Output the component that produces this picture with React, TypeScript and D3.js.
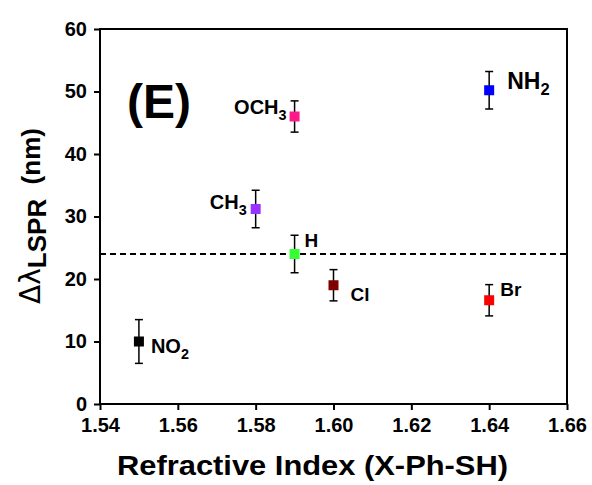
import React, { useEffect, useRef } from 'react'
import * as d3 from 'd3'

const names = ['NO2', 'CH3', 'OCH3', 'H', 'Cl', 'Br', 'NH2']
const refIndex = [1.55, 1.58, 1.59, 1.59, 1.60, 1.64, 1.64]
const shift = [10, 31.2, 46, 24, 19, 16.6, 50.2]
const errors = [3.5, 3, 2.5, 3, 2.5, 2.5, 3]
const colors = ['#000000', '#9933ff', '#ff1a8c', '#33ff33', '#800000', '#ff0000', '#0000ff']
// label placement relative to marker: [dx, dy, anchor, font size]
const labelPos: [number, number, string, number][] = [
  [12, 11, 'start', 20],
  [-9, 0, 'end', 20],
  [-8, -2.5, 'end', 20],
  [10, -7, 'start', 19],
  [17, 16, 'start', 19],
  [11, -4.5, 'start', 19],
  [18, -1.5, 'start', 23]
]
const xTicks = [1.54, 1.56, 1.58, 1.60, 1.62, 1.64, 1.66]
const yTicks = [0, 10, 20, 30, 40, 50, 60]
const refLine = 24

const W = 592
const H = 485
const FONT = '"Liberation Sans", Arial, sans-serif'

export default function App () {
  const ref = useRef<SVGSVGElement>(null)

  useEffect(() => {
    const svg = d3.select(ref.current)
    svg.selectAll('*').remove()

    const left = 100
    const right = 567
    const top = 29
    const bottom = 404

    const x = d3.scaleLinear().domain([1.54, 1.66]).range([left, right])
    const y = d3.scaleLinear().domain([0, 60]).range([bottom, top])

    // reference dashed line
    svg.append('line')
      .attr('x1', left).attr('x2', right)
      .attr('y1', y(refLine)).attr('y2', y(refLine))
      .attr('stroke', '#000').attr('stroke-width', 2)
      .attr('stroke-dasharray', '6,4')

    // frame
    svg.append('rect')
      .attr('x', left).attr('y', top)
      .attr('width', right - left).attr('height', bottom - top)
      .attr('fill', 'none').attr('stroke', '#000').attr('stroke-width', 2)

    // x axis
    const xAxis = svg.append('g').attr('transform', `translate(0,${bottom})`)
    xAxis.call(d3.axisBottom(x).tickValues(d3.range(1.55, 1.66, 0.02)).tickSize(3).tickFormat(() => ''))
    xAxis.call(d3.axisBottom(x).tickValues(xTicks).tickSize(6).tickPadding(8).tickFormat(d3.format('.2f')))
    xAxis.selectAll('.domain').remove()
    xAxis.selectAll('line').attr('stroke-width', 2)

    // y axis
    const yAxis = svg.append('g').attr('transform', `translate(${left},0)`)
    yAxis.call(d3.axisLeft(y).tickValues(d3.range(5, 60, 10)).tickSize(3).tickFormat(() => ''))
    yAxis.call(d3.axisLeft(y).tickValues(yTicks).tickSize(6).tickPadding(7).tickFormat(d3.format('d')))
    yAxis.selectAll('.domain').remove()
    yAxis.selectAll('line').attr('stroke-width', 2)

    svg.selectAll('.tick text')
      .attr('font-family', FONT).attr('font-size', 20)
      .attr('font-weight', 'bold').attr('fill', '#000')

    // points
    const data = names.map((n, i) => ({
      name: n, x: refIndex[i], y: shift[i], e: errors[i], c: colors[i], lp: labelPos[i]
    }))

    const pt = svg.append('g').selectAll('g')
      .data(data)
      .enter().append('g')
      .attr('transform', d => `translate(${x(d.x)},${y(d.y)})`)

    pt.append('line')
      .attr('y1', d => y(d.y + d.e) - y(d.y)).attr('y2', d => y(d.y - d.e) - y(d.y))
      .attr('stroke', '#000').attr('stroke-width', 1.5)
    pt.append('line')
      .attr('x1', -4).attr('x2', 4)
      .attr('y1', d => y(d.y + d.e) - y(d.y)).attr('y2', d => y(d.y + d.e) - y(d.y))
      .attr('stroke', '#000').attr('stroke-width', 1.5)
    pt.append('line')
      .attr('x1', -4).attr('x2', 4)
      .attr('y1', d => y(d.y - d.e) - y(d.y)).attr('y2', d => y(d.y - d.e) - y(d.y))
      .attr('stroke', '#000').attr('stroke-width', 1.5)
    pt.append('rect')
      .attr('x', -5).attr('y', -5).attr('width', 10).attr('height', 10)
      .attr('fill', d => d.c)

    const lbl = pt.append('text')
      .attr('x', d => d.lp[0]).attr('y', d => d.lp[1])
      .attr('text-anchor', d => d.lp[2])
      .attr('font-family', FONT).attr('font-size', d => d.lp[3]).attr('font-weight', 'bold')
    lbl.each(function (d) {
      const t = d3.select(this)
      const m = d.name.match(/^([A-Za-z]+?)(\d*)$/)
      const base = m ? m[1] : d.name
      const sub = m ? m[2] : ''
      t.append('tspan').text(base)
      if (sub) t.append('tspan').attr('dy', 6).attr('font-size', d.lp[3] * 0.72).text(sub)
    })

    // panel letter
    svg.append('text')
      .attr('x', 159).attr('y', 118).attr('text-anchor', 'middle')
      .attr('font-family', FONT).attr('font-size', 48).attr('font-weight', 'bold')
      .text('(E)')

    // x title
    svg.append('text')
      .attr('x', 312.5).attr('y', 475).attr('text-anchor', 'middle')
      .attr('font-family', FONT).attr('font-size', 28).attr('font-weight', 'bold')
      .attr('textLength', 391).attr('lengthAdjust', 'spacingAndGlyphs')
      .text('Refractive Index (X-Ph-SH)')

    // y title
    const yt = svg.append('text')
      .attr('transform', 'translate(40,216) rotate(-90)')
      .attr('text-anchor', 'middle')
      .attr('font-family', FONT).attr('font-size', 26).attr('font-weight', 'bold')
    yt.append('tspan').attr('font-weight', 'normal').attr('font-size', 28).attr('font-family', '"DejaVu Sans", sans-serif').text('Δλ')
    yt.append('tspan').attr('dy', 6).text('LSPR')
    yt.append('tspan').attr('dy', -6).text('\u00a0 (nm)')
  }, [])

  return (
    <svg
      ref={ref}
      width={W}
      height={H}
      viewBox={`0 0 ${W} ${H}`}
      style={{ position: 'absolute', left: 0, top: 0, background: '#fff' }}
    />
  )
}
